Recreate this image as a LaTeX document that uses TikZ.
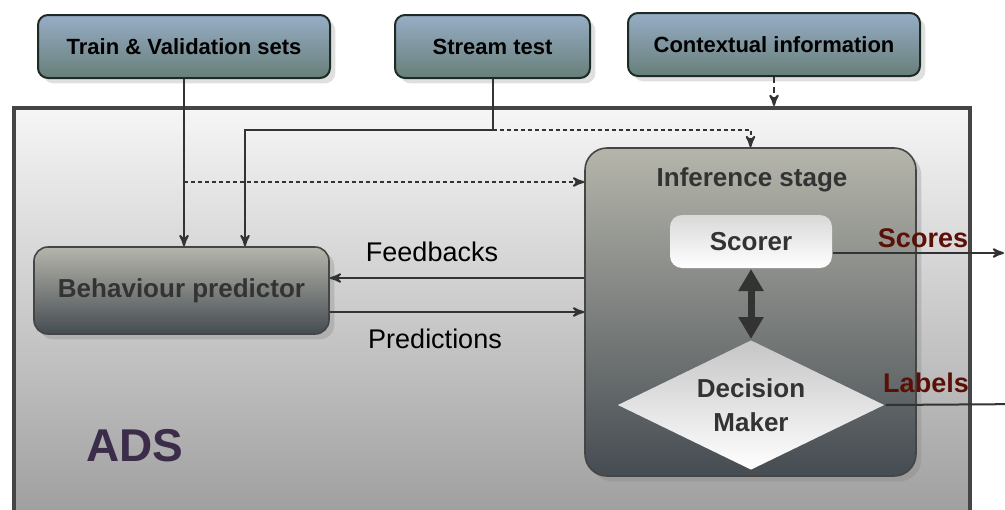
\documentclass[tikz,border=0pt]{standalone}
\usepackage{xcolor}
\usepackage{fontspec}
\setmainfont{Liberation Sans}
\usetikzlibrary{arrows, arrows.meta, positioning, shapes.geometric, shadows}

\definecolor{inputtop}{HTML}{97ADC6}
\definecolor{inputbot}{HTML}{677F78}
\definecolor{inputedge}{HTML}{1E2A24}
\definecolor{adstop}{HTML}{F6F6F6}
\definecolor{adsbot}{HTML}{9C9C9C}
\definecolor{adsedge}{HTML}{454545}
\definecolor{stagetop}{HTML}{B5B5AB}
\definecolor{stagebot}{HTML}{454C52}
\definecolor{darktext}{HTML}{333333}
\definecolor{outred}{HTML}{5A1006}
\definecolor{adsname}{HTML}{3B2C4A}

\begin{document}
\begin{tikzpicture}[x=0.5pt, y=-0.5pt,
				>=stealth',
				line width=1pt,
				inbox/.style={draw=inputedge, line width=1pt, rounded corners=5pt,
					top color=inputtop, bottom color=inputbot,
					minimum height=31.5pt, font=\bfseries\fontsize{11}{13}\selectfont},
				stagebox/.style={draw=adsedge, line width=0.8pt,
					top color=stagetop, bottom color=stagebot,
					text=darktext, font=\bfseries\fontsize{13}{17}\selectfont},
				whitebox/.style={top color=gray!30, bottom color=white, draw=none,
					text=darktext, font=\bfseries\fontsize{13}{17}\selectfont},
				plainlbl/.style={font=\fontsize{13.5}{16}\selectfont, text=black},
				outlbl/.style={font=\bfseries\fontsize{13.5}{16}\selectfont, text=outred},
				conn/.style={->, draw=darktext, line width=1pt},
				dotconn/.style={->, draw=darktext, line width=1pt, dash pattern=on 2pt off 1.5pt},
				bigarrow/.style={{Triangle[width=12pt,length=11pt]}-{Triangle[width=12pt,length=11pt]},
					draw=darktext, line width=3.5pt}]

	\useasboundingbox (0,0) rectangle (1005,509);
	\clip (0,0) rectangle (1005,509);

	% outer system
	\node (ads) [draw=adsedge, line width=2pt, top color=adstop, bottom color=adsbot,
		minimum width=478pt, minimum height=211pt] at (492,319) {};
	\node (adsname) [font=\bfseries\fontsize{23}{26}\selectfont, text=adsname] at (135,446) {ADS};

	% inputs
	\node (train) [inbox, minimum width=146pt, drop shadow={opacity=0.25}] at (184,46.5) {Train \& Validation sets};
	\node (stream) [inbox, minimum width=97.5pt, drop shadow={opacity=0.25}] at (492.5,46.5) {Stream test};
	\node (ctx) [inbox, minimum width=146pt, drop shadow={opacity=0.25}] at (774,44.5) {Contextual information};

	% blocks
	\node (bp) [stagebox, rounded corners=7pt, minimum width=147.5pt, minimum height=43.5pt,
		drop shadow={opacity=0.3}] at (181.5,290.5) {Behaviour predictor};
	\node (infer) [stagebox, rounded corners=11pt, minimum width=165.5pt, minimum height=164pt,
		drop shadow={opacity=0.3}] at (750.5,312) {};
	\node (inflabel) [text=darktext, font=\bfseries\fontsize{13}{17}\selectfont] at (752,180) {Inference stage};
	\node (scorer) [whitebox, rounded corners=6pt, minimum width=81pt, minimum height=26.5pt] at (751,241.5) {Scorer};
	\node (dm) [whitebox, diamond, aspect=2.05, inner sep=0pt, minimum width=133.5pt, minimum height=65pt,
		align=center, top color=gray!45] at (751,405) {Decision\\Maker};

	% labels
	\node (fblbl) [plainlbl] at (432,252) {Feedbacks};
	\node (prlbl) [plainlbl] at (435,339) {Predictions};
	\node (sclbl) [outlbl] at (923,238) {Scores};
	\node (lblbl) [outlbl] at (926,383) {Labels};

	\coordinate (tsplit) at (184,182);
	\coordinate (sturn) at (245,130);
	\coordinate (scend) at (1004,253);
	\coordinate (lbend) at (1030,404);

	\draw[conn] (train.south) -- (train.south |- bp.north);
	\draw[dotconn] (tsplit) -- (tsplit -| infer.west);
	\draw[conn] (stream.south) |- (sturn) -- (sturn |- bp.north);
	\draw[dotconn] (stream.south |- sturn) -| (infer.north);
	\draw[dotconn, dash pattern=on 3pt off 2pt] (ctx.south) -- (ctx.south |- ads.north);
	\draw[conn] (infer.west |- 0,278) -- (bp.east |- 0,278);
	\draw[conn] (bp.east |- 0,312) -- (infer.west |- 0,312);
	\draw[bigarrow] (scorer.south) -- (dm.north);
	\draw[conn] (scorer.east |- scend) -- (scend);
	\draw[conn] (dm.east) -- (lbend);
\end{tikzpicture}
\end{document}
